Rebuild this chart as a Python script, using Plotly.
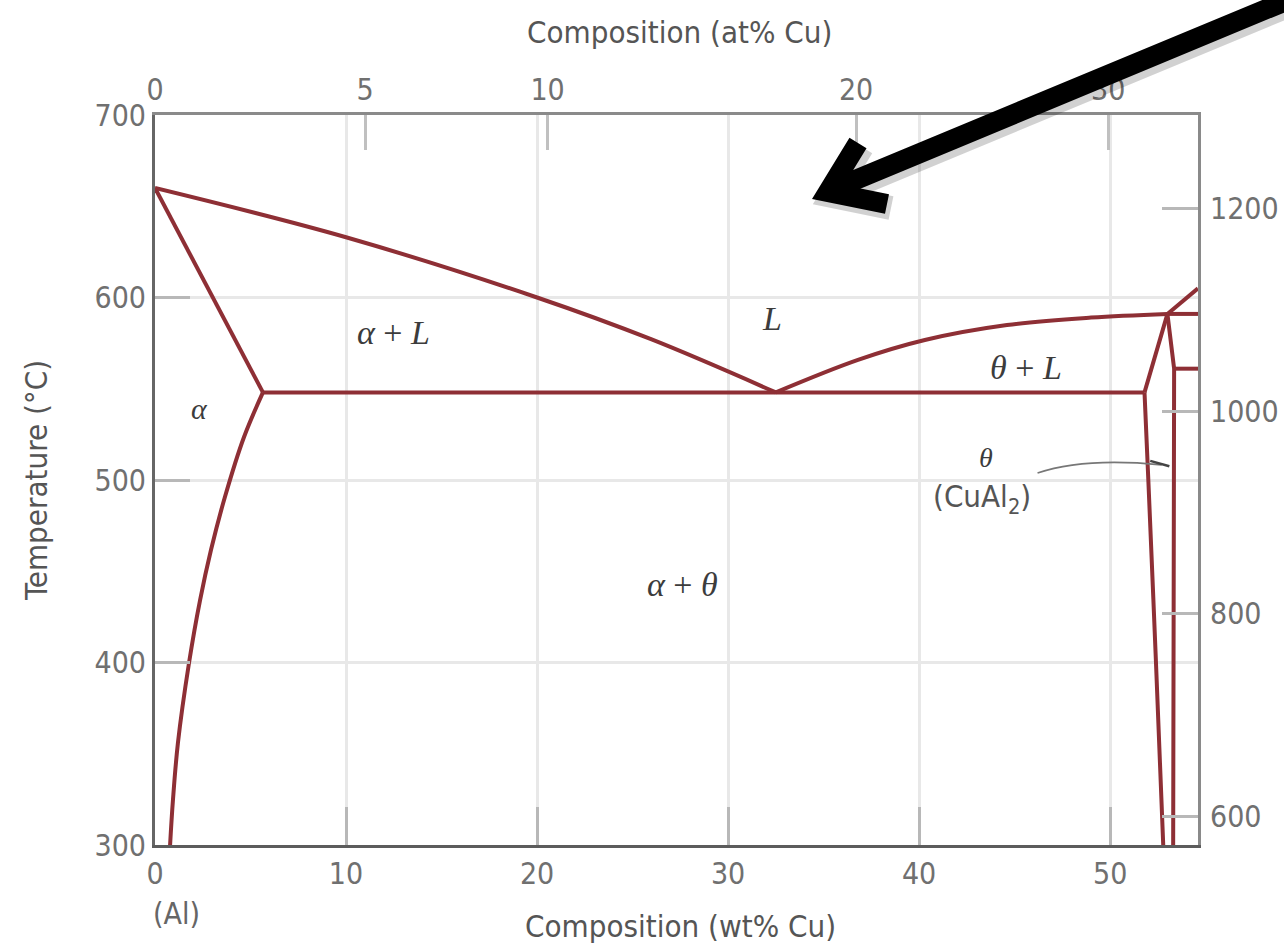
import plotly.graph_objects as go

# ---------------- data (wt% Cu, temperature °C) ----------------
liq_left_x = [0, 10, 20, 26, 32.5]
liq_left_t = [660, 633, 600, 577, 548]

solidus_x = [0, 5.65]
solidus_t = [660, 548]

solvus_x = [5.65, 4.66, 3.66, 2.93, 2.36, 1.78, 1.20, 0.94, 0.79]
solvus_t = [548, 523.6, 490.7, 461.6, 434.2, 399.7, 355.9, 324.7, 300]

eutectic_x = [5.65, 51.8]
eutectic_t = [548, 548]

liq_right_x = [32.5, 36.8, 40.3, 44.6, 49.0, 53.0]
liq_right_t = [548, 565.8, 576.7, 584.9, 589, 591]

perit_x = [53.0, 54.6]
perit_t = [591, 591]

liq_upper_x = [53.0, 54.6]
liq_upper_t = [591, 605]

theta_left_up_x = [51.8, 53.0]
theta_left_up_t = [548, 591]

theta_left_x = [51.8, 52.0, 52.4, 52.78]
theta_left_t = [548, 500, 400, 300]

theta_right_x = [53.0, 53.35, 53.3]
theta_right_t = [591, 561, 300]

iso561_x = [53.35, 54.6]
iso561_t = [561, 561]

# axis ticks
wt_ticks = [0, 10, 20, 30, 40, 50]
temp_ticks = [300, 400, 500, 600, 700]
at_labels = ["0", "5", "10", "20", "30"]
at_pos_wt = [0, 11.0, 20.55, 36.7, 49.9]
f_labels = [600, 800, 1000, 1200]

X_MAX = 54.6
LINE_COLOR = "#8e2f35"
SANS = "DejaVu Sans Condensed, Liberation Sans, Arial"
SERIF = "Liberation Serif, Times New Roman, serif"

fig = go.Figure()

def add_line(xs, ts, spline=False):
    fig.add_trace(go.Scatter(
        x=xs, y=ts, mode="lines",
        line=dict(color=LINE_COLOR, width=4, shape="spline" if spline else "linear",
                  smoothing=1.0),
        showlegend=False, hoverinfo="skip", cliponaxis=True))

add_line(liq_left_x, liq_left_t, spline=True)
add_line(solidus_x, solidus_t)
add_line(solvus_x, solvus_t, spline=True)
add_line(eutectic_x, eutectic_t)
add_line(liq_right_x, liq_right_t, spline=True)
add_line(perit_x, perit_t)
add_line(liq_upper_x, liq_upper_t)
add_line(theta_left_up_x, theta_left_up_t)
add_line(theta_left_x, theta_left_t, spline=True)
add_line(theta_right_x, theta_right_t)
add_line(iso561_x, iso561_t)

# invisible trace for the secondary axes
fig.add_trace(go.Scatter(x=[None], y=[None], xaxis="x2", yaxis="y2",
                         showlegend=False, hoverinfo="skip"))

W, H = 1284, 949
ML, MR, MT, MB = 155, 86, 115, 104
PW, PH = W - ML - MR, H - MT - MB

def px(xp, yp):
    """pixel position -> paper coords"""
    return (xp - ML) / PW, (H - MB - yp) / PH

tick_font = dict(family=SANS, size=30, color="#707070")

fig.update_layout(
    width=W, height=H, autosize=False,
    margin=dict(l=ML, r=MR, t=MT, b=MB, autoexpand=False),
    paper_bgcolor="white", plot_bgcolor="white",
    xaxis=dict(range=[0, X_MAX], tickvals=wt_ticks, ticks="inside", ticklen=38,
               tickwidth=3, tickcolor="#b8b8b8", showgrid=True, gridcolor="#e8e8e8",
               gridwidth=3, showline=True, linecolor="#5c5c5c", linewidth=3,
               zeroline=False, tickfont=tick_font, ticklabelstandoff=0),
    yaxis=dict(range=[300, 700], tickvals=temp_ticks, ticks="inside", ticklen=35,
               tickwidth=3, tickcolor="#b8b8b8", showgrid=True, gridcolor="#e8e8e8",
               gridwidth=3, showline=True, linecolor="#666666", linewidth=3,
               zeroline=False, tickfont=tick_font, ticklabelstandoff=0),
    xaxis2=dict(range=[0, X_MAX], overlaying="x", side="top", anchor="y2",
                tickvals=at_pos_wt, ticktext=at_labels, ticks="inside", ticklen=35,
                tickwidth=3, tickcolor="#c0c0c0", showgrid=False, showline=True,
                linecolor="#8a8a8a", linewidth=3, zeroline=False, tickfont=tick_font,
                ticklabelstandoff=0),
    yaxis2=dict(range=[300, 700], overlaying="y", side="right", anchor="x2",
                tickvals=[(f - 32) * 5 / 9 for f in f_labels],
                ticktext=[str(f) for f in f_labels], ticks="inside", ticklen=36,
                tickwidth=3, tickcolor="#b8b8b8", showgrid=False, showline=True,
                linecolor="#8a8a8a", linewidth=3, zeroline=False, tickfont=tick_font,
                ticklabelstandoff=3),
)

annos = []
def paper_text(text, xp, yp, size=31, color="#555555", angle=0, family=SANS):
    x, y = px(xp, yp)
    annos.append(dict(text=text, x=x, y=y, xref="paper", yref="paper",
                      showarrow=False, textangle=angle,
                      font=dict(family=family, size=size, color=color),
                      xanchor="center", yanchor="middle"))

paper_text("Composition (at% Cu)", 679, 32)
paper_text("Composition (wt% Cu)", 680, 926)
paper_text("Temperature (°C)", 36, 481, angle=-90)
paper_text("(Al)", 176, 913, size=30, color="#666666")

def data_text(text, x, y, size=34, family=SERIF, color="#3c3c3c"):
    annos.append(dict(text=text, x=x, y=y, xref="x", yref="y", showarrow=False,
                      font=dict(family=family, size=size, color=color),
                      xanchor="center", yanchor="middle"))

data_text("<i>α</i> + <i>L</i>", 12.5, 580.6)
data_text("<i>L</i>", 32.3, 588.5)
data_text("<i>θ</i> + <i>L</i>", 45.6, 561.4)
data_text("<i>α</i>", 2.35, 539, size=30)
data_text("<i>θ</i>", 43.5, 512.6, size=28)
data_text("(CuAl<sub>2</sub>)", 43.3, 490, size=31, family=SANS, color="#555555")
data_text("<i>α</i> + <i>θ</i>", 27.6, 442.5)

fig.update_layout(annotations=annos)

# leader from (CuAl2) label to the theta phase
fig.add_shape(type="path", xref="x", yref="y",
              path="M 46.2,503.8 Q 48.6,512.5 52.7,508.3",
              line=dict(color="#777777", width=1.6))
fig.add_shape(type="path", xref="x", yref="y",
              path="M 52.1,510.5 L 53.1,507.5",
              line=dict(color="#444444", width=2.5))

# big black arrow (in pixel space converted to paper)
def ppath(points_groups):
    s = ""
    for grp in points_groups:
        for i, (a, b) in enumerate(grp):
            x, y = px(a, b)
            s += ("M " if i == 0 else " L ") + f"{x:.5f},{y:.5f}"
        s += " "
    return s.strip()

head = [(858, 143), (828, 192), (887, 204)]
shaft = [(836, 188), (1310, -9)]
shadow_off = 4
fig.add_shape(type="path", xref="paper", yref="paper", layer="above",
              path=ppath([[(a + shadow_off, b + shadow_off) for a, b in head],
                          [(a + shadow_off, b + shadow_off) for a, b in shaft]]),
              line=dict(color="rgba(0,0,0,0.18)", width=24))
fig.add_shape(type="path", xref="paper", yref="paper", layer="above",
              path=ppath([head, shaft]),
              line=dict(color="black", width=20))

fig.write_html(
    "out.html",
    config={"responsive": False, "displayModeBar": False},
    post_script="document.body.style.margin='0';document.body.style.overflow='hidden';",
)
